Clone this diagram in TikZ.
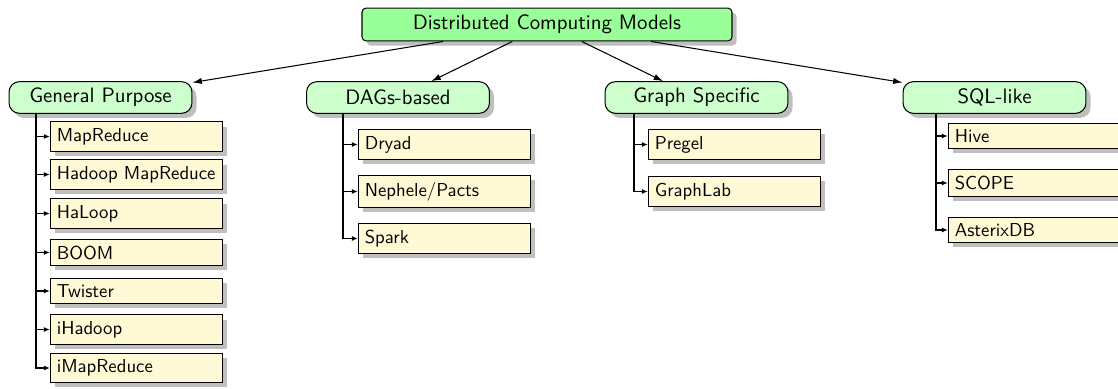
\documentclass[tikz,border=0pt]{standalone}
\usepackage{fontspec}
\newfontfamily\leaffont{lmsans10-regular.otf}
\usetikzlibrary{shadows,arrows.meta}
\definecolor{rootgreen}{RGB}{153,255,153}
\definecolor{catgreen}{RGB}{204,255,204}
\definecolor{leafyellow}{RGB}{255,249,214}
\newcommand\lftext[1]{\makebox[76.6pt][l]{#1}}
\begin{document}
\begin{tikzpicture}[x=0.48pt,y=-0.48pt,
  font=\sffamily,
  line width=0.5pt,
  myshadow/.style={drop shadow={shadow xshift=2.2pt,shadow yshift=-2.2pt,opacity=0.5,fill=black!50}},
  rootbox/.style={draw=black, fill=rootgreen, rounded corners=2pt, minimum width=177.6pt, minimum height=15.8pt, inner sep=3pt, myshadow},
  catbox/.style={draw=black, fill=catgreen, rounded corners=5pt, minimum width=87.8pt, minimum height=15.2pt, inner sep=3pt, myshadow},
  leafbox/.style={draw=black, fill=leafyellow, anchor=west, font=\leaffont\fontsize{9}{11}\selectfont, inner xsep=3pt, inner ysep=3pt, myshadow},
  toparrow/.style={-{Latex[length=4.5pt,width=3pt]}},
  leafarrow/.style={line width=0.6pt,-{Latex[length=3pt,width=2.4pt]}}
]
\useasboundingbox (0,0) rectangle (1118,389);

% root
\node[rootbox] (root) at (547,24.5) {Distributed Computing Models};

% categories
\node[catbox] (gp)  at (100.5,97.5) {General Purpose};
\node[catbox] (dag) at (398,97.5)   {DAGs-based};
\node[catbox] (gs)  at (696.5,97.5) {Graph Specific};
\node[catbox] (sql) at (994.5,97.5) {SQL-like};

% General Purpose leaves
\node[leafbox] (gp1) at (50,136.5) {\lftext{MapReduce}};
\node[leafbox] (gp2) at (50,174.5) {\lftext{Hadoop MapReduce}};
\node[leafbox] (gp3) at (50,213.5) {\lftext{HaLoop}};
\node[leafbox] (gp4) at (50,252.5) {\lftext{BOOM}};
\node[leafbox] (gp5) at (50,291)   {\lftext{Twister}};
\node[leafbox] (gp6) at (50,329.5) {\lftext{iHadoop}};
\node[leafbox] (gp7) at (50,368)   {\lftext{iMapReduce}};

% DAGs leaves
\node[leafbox] (dag1) at (358,144.5) {\lftext{Dryad}};
\node[leafbox] (dag2) at (358,191.5) {\lftext{Nephele/Pacts}};
\node[leafbox] (dag3) at (358,238.5) {\lftext{Spark}};

% Graph leaves
\node[leafbox] (gs1) at (648,144.5) {\lftext{Pregel}};
\node[leafbox] (gs2) at (648,191.5) {\lftext{GraphLab}};

% SQL leaves
\node[leafbox] (sql1) at (948,136) {\lftext{Hive}};
\node[leafbox] (sql2) at (948,183) {\lftext{SCOPE}};
\node[leafbox] (sql3) at (948,230) {\lftext{AsterixDB}};

% top connectors
\draw[toparrow] (root) -- (gp);
\draw[toparrow] (root) -- (dag);
\draw[toparrow] (root) -- (gs);
\draw[toparrow] (root) -- (sql);

% bus start points
\coordinate (gpb)  at (36,113);
\coordinate (dagb) at (343,113);
\coordinate (gsb)  at (634,113);
\coordinate (sqlb) at (936,113);

\foreach \c in {gp1,gp2,gp3,gp4,gp5,gp6,gp7}
  \draw[leafarrow] (gpb) |- (\c.west);
\foreach \c in {dag1,dag2,dag3}
  \draw[leafarrow] (dagb) |- (\c.west);
\foreach \c in {gs1,gs2}
  \draw[leafarrow] (gsb) |- (\c.west);
\foreach \c in {sql1,sql2,sql3}
  \draw[leafarrow] (sqlb) |- (\c.west);
\end{tikzpicture}
\end{document}
